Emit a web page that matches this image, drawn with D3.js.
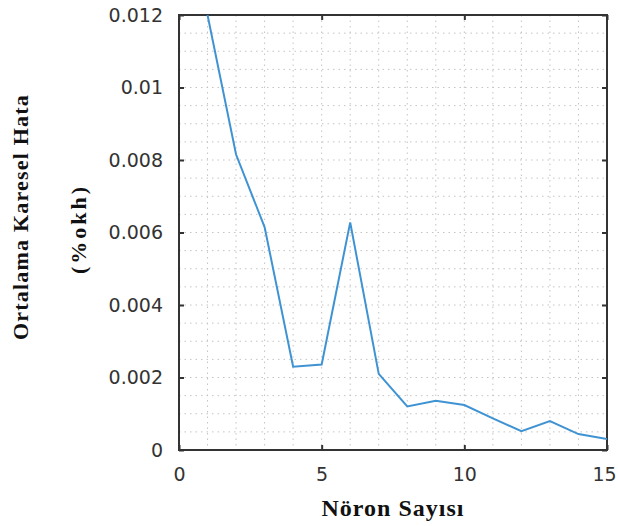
<!DOCTYPE html>
<html>
<head>
<meta charset="utf-8">
<script src="https://cdn.jsdelivr.net/npm/d3@7"></script>
<style>
  body { margin: 0; background: #fff; }
  .tick text { font-family: "DejaVu Sans", sans-serif; font-size: 19px; fill: #333; }
  .title { font-family: "Liberation Serif", "Times New Roman", serif; font-weight: bold; fill: #111; }
</style>
</head>
<body>
<div id="chart"></div>
<script>
// Data
var neurons = [1, 2, 3, 4, 5, 6, 7, 8, 9, 10, 11, 12, 13, 14, 15];
var mse = [0.012, 0.00815, 0.00615, 0.0023, 0.00236, 0.00628, 0.0021, 0.0012, 0.00136, 0.00124, 0.00087, 0.00052, 0.0008, 0.00044, 0.0003];
var xTicks = [0, 5, 10, 15];
var yTicks = [0, 0.002, 0.004, 0.006, 0.008, 0.01, 0.012];
var yTickLabels = ["0", "0.002", "0.004", "0.006", "0.008", "0.01", "0.012"];

var width = 618, height = 526;
var margin = {top: 15, left: 179, right: 11, bottom: 76};
var plotW = width - margin.left - margin.right,
    plotH = height - margin.top - margin.bottom;

var svg = d3.select("#chart")
    .append("svg")
    .attr("width", width)
    .attr("height", height);

var g = svg.append("g")
    .attr("transform", "translate(" + margin.left + "," + margin.top + ")");

var x = d3.scaleLinear().domain([0, 15]).range([0, plotW]);
var y = d3.scaleLinear().domain([0, 0.012]).range([plotH, 0]);

// dotted grid
g.append("g").selectAll("line")
    .data(d3.range(1, 15))
    .join("line")
    .attr("x1", d => x(d)).attr("x2", d => x(d))
    .attr("y1", 0).attr("y2", plotH)
    .attr("stroke", "#c4c4c4")
    .attr("stroke-dasharray", "1.5,4");

g.append("g").selectAll("line")
    .data(d3.range(1, 24).map(d => d * 0.0005))
    .join("line")
    .attr("y1", d => y(d)).attr("y2", d => y(d))
    .attr("x1", 0).attr("x2", plotW)
    .attr("stroke", "#c4c4c4")
    .attr("stroke-dasharray", "1.5,4");

// axes (ticks inward on all sides)
g.append("g")
    .attr("transform", "translate(0," + plotH + ")")
    .call(d3.axisBottom(x).tickValues(xTicks).tickSize(-5).tickPadding(18).tickFormat(d3.format("d")))
    .selectAll(".tick text")
    .attr("dx", d => d === 15 ? -3 : 0);
g.append("g")
    .call(d3.axisLeft(y).tickValues(yTicks).tickSize(-5).tickPadding(16)
        .tickFormat((d, i) => yTickLabels[i]));
g.append("g")
    .call(d3.axisTop(x).tickValues(xTicks).tickSize(-5).tickFormat(""));
g.append("g")
    .attr("transform", "translate(" + plotW + ",0)")
    .call(d3.axisRight(y).tickValues(yTicks).tickSize(-5).tickFormat(""));

g.selectAll(".domain").remove();
g.selectAll(".tick line").attr("stroke", "#333").attr("stroke-width", 2);

g.append("rect")
    .attr("width", plotW).attr("height", plotH)
    .attr("fill", "none")
    .attr("stroke", "#333")
    .attr("stroke-width", 2);

// line
g.append("defs").append("clipPath").attr("id", "clip")
    .append("rect").attr("width", plotW).attr("height", plotH);

g.append("path")
    .datum(neurons)
    .attr("clip-path", "url(#clip)")
    .attr("fill", "none")
    .attr("stroke", "#3f93d3")
    .attr("stroke-width", 2)
    .attr("d", d3.line().x(d => x(d)).y((d, i) => y(mse[i])));

// titles
svg.append("text")
    .attr("class", "title")
    .attr("x", margin.left + plotW / 2)
    .attr("y", 516)
    .attr("text-anchor", "middle")
    .style("font-size", "24px")
    .style("letter-spacing", "1px")
    .text("Nöron Sayısı");

svg.append("text")
    .attr("class", "title")
    .attr("transform", "translate(28,217) rotate(-90)")
    .attr("text-anchor", "middle")
    .style("font-size", "22px")
    .style("letter-spacing", "1.2px")
    .text("Ortalama Karesel Hata");

svg.append("text")
    .attr("class", "title")
    .attr("transform", "translate(86,229) rotate(-90)")
    .attr("text-anchor", "middle")
    .style("font-size", "22px")
    .style("letter-spacing", "3px")
    .text("(%okh)");
</script>
</body>
</html>
